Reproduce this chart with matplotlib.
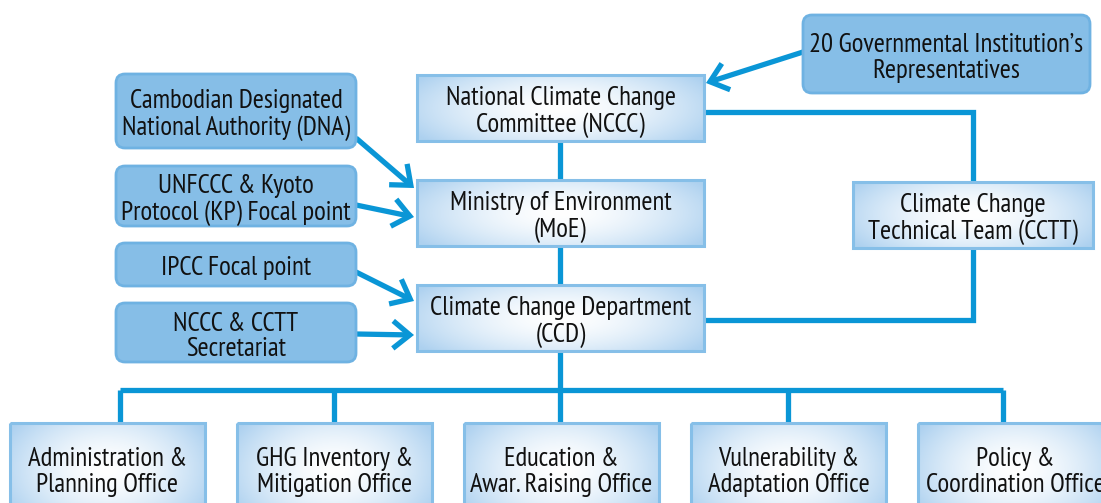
import numpy as np
import matplotlib
matplotlib.use("Agg")
import matplotlib.pyplot as plt
from matplotlib.patches import Rectangle, FancyBboxPatch, FancyArrowPatch
from matplotlib import font_manager

# ---------------- data (labels) ----------------
main_labels = ["National Climate Change\nCommittee (NCCC)",
               "Ministry of Environment\n(MoE)",
               "Climate Change Department\n(CCD)"]
cctt_label = "Climate Change\nTechnical Team (CCTT)"
gov_label = "20 Governmental Institution\u2019s\nRepresentatives"
side_labels = ["Cambodian Designated\nNational Authority (DNA)",
               "UNFCCC & Kyoto\nProtocol (KP) Focal point",
               "IPCC Focal point",
               "NCCC & CCTT\nSecretariat"]
office_labels = ["Administration &\nPlanning Office",
                 "GHG Inventory &\nMitigation Office",
                 "Education &\nAwar. Raising Office",
                 "Vulnerability &\nAdaptation Office",
                 "Policy &\nCoordination Office"]

# ---------------- layout (pixels) ----------------
W, H = 1101, 503
ents = font_manager.fontManager.ttflist
names = set(f.name for f in ents)
FONT_KW = {}
FS = 19.3
if "PT Sans Narrow" in names:
    FONT_KW = dict(family="PT Sans Narrow")
elif "Roboto Condensed" in names:
    FONT_KW = dict(family="Roboto Condensed"); FS = 17
elif any(f.name == "Open Sans" and f.stretch == "condensed" for f in ents):
    FONT_KW = dict(family="Open Sans", stretch="condensed"); FS = 16
else:
    FONT_KW = dict(family="DejaVu Sans"); FS = 13

LINE = "#0A96D6"
LW = 3.8
EDGE_LIGHT = "#86BFE8"
ROUND_FILL = "#86BEE7"
ROUND_EDGE = "#6FB2E2"
TXT = "#111111"
LSP = 1.1
TDY = 4   # text offset below box centre (pixels)

fig = plt.figure(figsize=(W / 100, H / 100), dpi=100)
ax = fig.add_axes([0, 0, 1, 1])
ax.set_xlim(0, W)
ax.set_ylim(H, 0)
ax.axis("off")

def grad_img(n=120):
    xs = np.linspace(-1, 1, n)
    ys = np.linspace(-1, 1, n // 3)
    X, Y = np.meshgrid(xs, ys)
    r = np.sqrt((X * 1.0) ** 2 * 0.8 + (Y * 0.9) ** 2 * 0.5)
    r = np.clip(r / 1.05, 0, 1) ** 1.6
    white = np.array([1.0, 1.0, 1.0])
    edge = np.array([0.68, 0.82, 0.94])
    img = white[None, None, :] * (1 - r[..., None]) + edge[None, None, :] * r[..., None]
    return img

def label(x, y, text):
    ax.text(x, y, text, ha="center", va="center", fontsize=FS, color=TXT,
            zorder=5, linespacing=LSP, **FONT_KW)

def grad_box(x0, y0, x1, y1, text, ty=None):
    ax.imshow(grad_img(), extent=(x0, x1, y1, y0), aspect="auto",
              interpolation="bilinear", zorder=3)
    ax.add_patch(Rectangle((x0, y0), x1 - x0, y1 - y0, fill=False,
                           edgecolor=EDGE_LIGHT, lw=2.2, zorder=4))
    label((x0 + x1) / 2, (y0 + y1) / 2 + TDY if ty is None else ty, text)

def round_box(x0, y0, x1, y1, text):
    ax.add_patch(FancyBboxPatch((x0, y0), x1 - x0, y1 - y0,
                                boxstyle="round,pad=0,rounding_size=9",
                                facecolor=ROUND_FILL, edgecolor=ROUND_EDGE,
                                lw=2.0, zorder=3))
    label((x0 + x1) / 2, (y0 + y1) / 2 + TDY, text)

def line(xs, ys):
    ax.plot(xs, ys, color=LINE, lw=LW, solid_joinstyle="miter",
            solid_capstyle="butt", zorder=1)

def arrow(p0, p1):
    ax.add_patch(FancyArrowPatch(p0, p1, arrowstyle="->,head_length=0.55,head_width=0.45",
                                 mutation_scale=22, color=LINE, lw=LW,
                                 shrinkA=0, shrinkB=0, zorder=2,
                                 joinstyle="miter", capstyle="butt"))

main_boxes = [(417, 75, 704, 141), (417, 180, 704, 246), (417, 285, 704, 351)]
cctt_box = (853, 182, 1093, 248)
gov_box = (803, 15, 1090, 93)
side_boxes = [(116, 74, 356, 148), (116, 166, 356, 226),
              (116, 243, 356, 286), (116, 303, 356, 362)]
office_x0 = [10, 237, 464, 691, 918]
office_w = 195
office_y0, office_y1 = 423, 515
office_drop = [120, 334, 560, 788, 1003]
bus_y = 390

# connecting lines
line([560, 560], [141, 180])
line([560, 560], [246, 285])
line([560, 560], [351, bus_y])
line([office_drop[0], office_drop[-1]], [bus_y, bus_y])
for xd in office_drop:
    line([xd, xd], [bus_y, office_y0])
line([704, 973, 973], [112, 112, 182])
line([973, 973, 704], [248, 320, 320])

# arrows
arrow((803, 52), (706, 83))
side_ends = [((356, 138), (414, 188)), ((356, 205), (414, 217)),
             ((356, 272), (414, 301)), ((356, 334), (414, 335))]
for (a, b) in side_ends:
    arrow(a, b)

# boxes
for b, t in zip(main_boxes, main_labels):
    grad_box(*b, t)
grad_box(*cctt_box, cctt_label)
round_box(*gov_box, gov_label)
for b, t in zip(side_boxes, side_labels):
    round_box(*b, t)
for x0, t in zip(office_x0, office_labels):
    grad_box(x0, office_y0, x0 + office_w, office_y1, t, ty=472)

ax.set_xlim(0, W)
ax.set_ylim(H, 0)
fig.savefig("out.png", dpi=100)
